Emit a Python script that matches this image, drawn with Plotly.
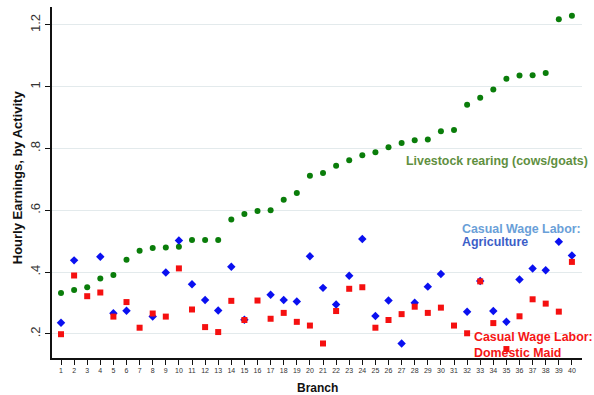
import plotly.graph_objects as go

branch = list(range(1, 41))

livestock = [0.332, 0.342, 0.351, 0.379, 0.391, 0.440, 0.469, 0.478, 0.480, 0.482,
             0.504, 0.504, 0.504, 0.570, 0.588, 0.598, 0.600, 0.634, 0.656, 0.712,
             0.721, 0.744, 0.762, 0.778, 0.788, 0.804, 0.818, 0.827, 0.829, 0.856,
             0.860, 0.942, 0.964, 0.991, 1.026, 1.036, 1.037, 1.044, 1.218, 1.230]

agriculture = [0.236, 0.438, None, 0.450, 0.267, 0.275, None, 0.256, 0.399, 0.502,
               0.361, 0.310, 0.276, 0.417, 0.246, None, 0.327, 0.310, 0.305, 0.451,
               0.349, 0.295, 0.388, 0.507, 0.258, 0.308, 0.169, 0.301, 0.353, 0.394,
               None, 0.272, 0.371, 0.274, 0.239, 0.376, 0.412, 0.406, 0.498, 0.454]

maid = [0.199, 0.389, 0.322, 0.334, 0.256, 0.303, 0.220, 0.266, 0.256, 0.412,
        0.279, 0.222, 0.206, 0.307, 0.245, 0.308, 0.249, 0.268, 0.239, 0.227,
        0.169, 0.274, 0.346, 0.351, 0.220, 0.245, 0.264, 0.288, 0.268, 0.285,
        0.227, 0.202, 0.370, 0.235, 0.151, 0.257, 0.312, 0.298, 0.272, 0.433]

y_ticks = [0.2, 0.4, 0.6, 0.8, 1.0, 1.2]
y_tick_text = [".2", ".4", ".6", ".8", "1", "1.2"]

FONT = "Arial, Liberation Sans, sans-serif"

fig = go.Figure()
fig.add_trace(go.Scatter(x=branch, y=livestock, mode="markers",
                         marker=dict(symbol="circle", size=6, color="#0a7d0a"),
                         showlegend=False))
fig.add_trace(go.Scatter(x=branch, y=agriculture, mode="markers",
                         marker=dict(symbol="diamond", size=6.5, color="#0a10f0"),
                         showlegend=False))
fig.add_trace(go.Scatter(x=branch, y=maid, mode="markers",
                         marker=dict(symbol="square", size=6, color="#f51010"),
                         showlegend=False))

def label(text, x, y, color):
    fig.add_annotation(text="<b>%s</b>" % text, x=x, y=y, xref="x", yref="y",
                       xanchor="left", yanchor="middle", showarrow=False,
                       font=dict(family=FONT, size=12.4, color=color))

label("Livestock rearing (cows/goats)", 27.15, 0.7585, "#5f8f3f")
label("Casual Wage Labor:", 31.48, 0.540, "#6a9fd8")
label("Agriculture", 31.48, 0.499, "#3c5ec8")
label("Casual Wage Labor:", 32.37, 0.191, "#f51515")
label("Domestic Maid", 32.37, 0.139, "#f51515")

fig.add_annotation(text="<b>Hourly Earnings, by Activity</b>", textangle=-90,
                   x=-0.066, y=0.515, xref="paper", yref="paper",
                   xanchor="center", yanchor="middle", showarrow=False,
                   font=dict(family=FONT, size=13, color="#111"))
fig.add_annotation(text="<b>Branch</b>", x=0.5, y=-0.0855, xref="paper", yref="paper",
                   xanchor="center", yanchor="middle", showarrow=False,
                   font=dict(family=FONT, size=12, color="#111"))

fig.update_layout(
    width=594, height=395,
    margin=dict(l=52, r=12, t=7, b=37),
    plot_bgcolor="white", paper_bgcolor="white",
    font=dict(family=FONT),
    xaxis=dict(range=[0.313, 40.77], tickmode="array", tickvals=branch,
               ticks="outside", ticklen=5, tickcolor="#111", tickwidth=1,
               tickfont=dict(size=7, color="#333"),
               showline=True, linecolor="#111", linewidth=1.5,
               showgrid=False, zeroline=False),
    yaxis=dict(range=[0.122, 1.258], tickmode="array", tickvals=y_ticks,
               ticktext=y_tick_text, tickangle=-90,
               ticks="outside", ticklen=5, tickcolor="#111", tickwidth=1,
               tickfont=dict(size=13, color="#333"),
               showline=True, linecolor="#111", linewidth=1.5,
               showgrid=True, gridcolor="#e3eaec", gridwidth=1, zeroline=False),
)

fig.write_html("out.html")
